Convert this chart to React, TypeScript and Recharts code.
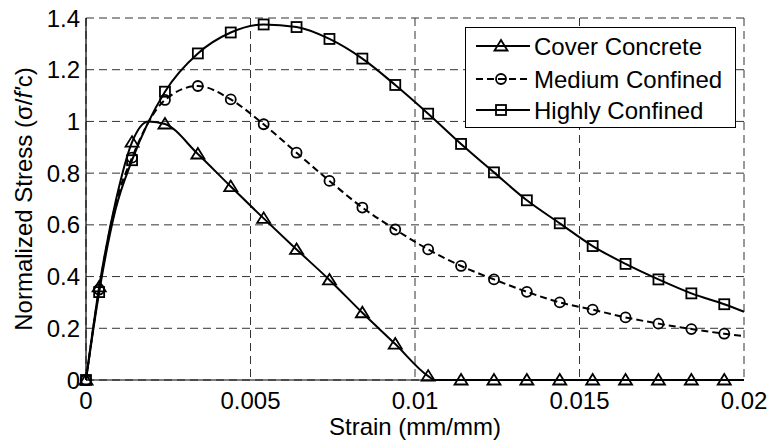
import React from "react"
import { CartesianGrid, Label, Line, LineChart, XAxis, YAxis } from "recharts"

// strain positions where markers are drawn
const markStrain = [
  0, 0.0004, 0.0014, 0.0024, 0.0034, 0.0044, 0.0054, 0.0064, 0.0074, 0.0084, 0.0094,
  0.0104, 0.0114, 0.0124, 0.0134, 0.0144, 0.0154, 0.0164, 0.0174, 0.0184, 0.0194,
]

const coverStress = [
  0, 0.36, 0.92, 0.99, 0.874, 0.748, 0.625, 0.505, 0.387, 0.26, 0.139,
  0.015, 0, 0, 0, 0, 0, 0, 0, 0, 0,
]
const mediumStress = [
  0, 0.35, 0.86, 1.083, 1.137, 1.085, 0.989, 0.879, 0.77, 0.667, 0.582,
  0.505, 0.441, 0.389, 0.341, 0.3, 0.272, 0.242, 0.218, 0.197, 0.179,
]
const highStress = [
  0, 0.34, 0.85, 1.115, 1.263, 1.344, 1.375, 1.365, 1.319, 1.243, 1.141,
  1.03, 0.913, 0.803, 0.695, 0.606, 0.518, 0.449, 0.389, 0.335, 0.293,
]

// curve points between markers
const coverExtra: [number, number][] = [[0.0009, 0.69], [0.0019, 1.0], [0.0106, 0], [0.02, 0]]
const mediumExtra: [number, number][] = [[0.0009, 0.68], [0.02, 0.17]]
const highExtra: [number, number][] = [[0.0009, 0.66], [0.02, 0.264]]

const xTicks = [0, 0.005, 0.01, 0.015, 0.02]
const yTicks = [0, 0.2, 0.4, 0.6, 0.8, 1, 1.2, 1.4]

const FONT = "'Liberation Sans', Arial, Helvetica, sans-serif"

type Shape = "triangle" | "circle" | "square"
type Pt = { x: number; y: number; mark: boolean }

function buildSeries(values: number[], extra: [number, number][]): Pt[] {
  const pts: Pt[] = markStrain.map((x, i) => ({ x, y: values[i], mark: true }))
  extra.forEach(([x, y]) => pts.push({ x, y, mark: false }))
  return pts.sort((a, b) => a.x - b.x)
}

const SERIES = [
  { name: "Cover Concrete", shape: "triangle" as Shape, dash: undefined, data: buildSeries(coverStress, coverExtra) },
  { name: "Medium Confined", shape: "circle" as Shape, dash: "7 4", data: buildSeries(mediumStress, mediumExtra) },
  { name: "Highly Confined", shape: "square" as Shape, dash: undefined, data: buildSeries(highStress, highExtra) },
]

function Marker({ shape, cx, cy }: { shape: Shape; cx: number; cy: number }) {
  const common = { fill: "none", stroke: "#000", strokeWidth: 1.8 }
  if (shape === "circle") return <circle cx={cx} cy={cy} r={5} {...common} />
  if (shape === "square") return <rect x={cx - 5} y={cy - 5} width={10} height={10} {...common} />
  return (
    <polygon
      points={`${cx},${cy - 6} ${cx - 6.5},${cy + 4.5} ${cx + 6.5},${cy + 4.5}`}
      {...common}
    />
  )
}

function LegendBox() {
  const rows = [19, 52, 83]
  return (
    <svg width={271} height={101} style={{ display: "block" }}>
      <rect x={0.5} y={0.5} width={270} height={100} fill="#fff" stroke="#000" strokeWidth={1} />
      {SERIES.map((s, i) => (
        <g key={s.name}>
          <line x1={11} x2={65} y1={rows[i]} y2={rows[i]} stroke="#000" strokeWidth={2} strokeDasharray={s.dash} />
          <Marker shape={s.shape} cx={36} cy={rows[i]} />
          <text x={69} y={rows[i] + 8.5} fontFamily={FONT} fontSize={24} fill="#000">
            {s.name}
          </text>
        </g>
      ))}
    </svg>
  )
}

export default function App() {
  return (
    <div style={{ position: "absolute", left: 0, top: 0, width: 769, height: 443, background: "#fff" }}>
      <LineChart width={769} height={443} margin={{ top: 18, right: 25, left: 0, bottom: 0 }}>
        <CartesianGrid stroke="#333" strokeDasharray="8 5" />
        <XAxis
          dataKey="x"
          type="number"
          domain={[0, 0.02]}
          ticks={xTicks}
          height={63}
          tickLine={false}
          tickMargin={6}
          tickFormatter={(v: number) => String(v)}
          axisLine={{ stroke: "#000", strokeWidth: 1.2 }}
          tick={{ fill: "#000", fontSize: 24, fontFamily: FONT }}
        >
          <Label
            content={({ viewBox }: any) => (
              <text
                x={viewBox.x + viewBox.width / 2}
                y={viewBox.y + 55}
                textAnchor="middle"
                fontFamily={FONT}
                fontSize={24}
                fill="#000"
              >
                Strain (mm/mm)
              </text>
            )}
          />
        </XAxis>
        <YAxis
          type="number"
          domain={[0, 1.4]}
          ticks={yTicks}
          width={86}
          tickLine={false}
          tickMargin={0}
          tickFormatter={(v: number) => String(v)}
          axisLine={{ stroke: "#000", strokeWidth: 1.2 }}
          tick={{ fill: "#000", fontSize: 24, fontFamily: FONT }}
        >
          <Label
            content={({ viewBox }: any) => {
              const cx = 32
              const cy = viewBox.y + viewBox.height / 2
              return (
                <text
                  x={cx}
                  y={cy}
                  transform={`rotate(-90, ${cx}, ${cy})`}
                  textAnchor="middle"
                  fontFamily={FONT}
                  fontSize={24}
                  fill="#000"
                >
                  Normalized Stress (σ/<tspan fontStyle="italic">f&apos;</tspan>c)
                </text>
              )
            }}
          />
        </YAxis>
        {SERIES.map((s) => (
          <Line
            key={s.name}
            data={s.data}
            dataKey="y"
            name={s.name}
            type="monotone"
            stroke="#000"
            strokeWidth={2}
            strokeDasharray={s.dash}
            isAnimationActive={false}
            activeDot={false}
            dot={(p: any) =>
              p.payload.mark ? (
                <Marker key={`${s.name}-${p.index}`} shape={s.shape} cx={p.cx} cy={p.cy} />
              ) : (
                <g key={`${s.name}-${p.index}`} />
              )
            }
          />
        ))}
      </LineChart>
      <div style={{ position: "absolute", left: 465, top: 27 }}>
        <LegendBox />
      </div>
    </div>
  )
}
